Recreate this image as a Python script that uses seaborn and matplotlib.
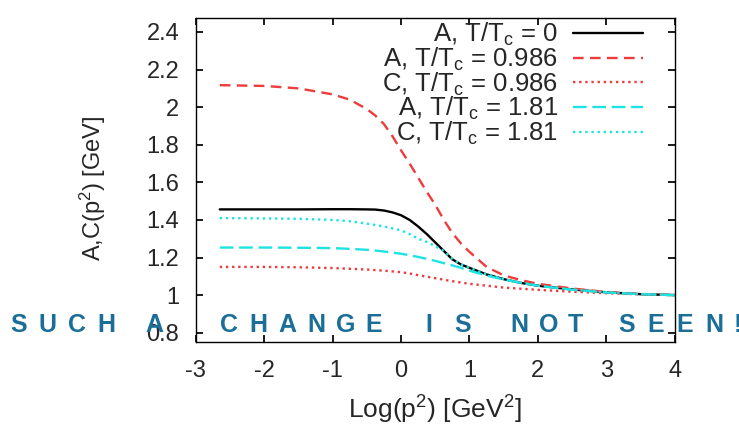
import matplotlib
matplotlib.use("Agg")
import matplotlib.pyplot as plt
import seaborn as sns
import pandas as pd

sns.set_theme(style="ticks")
plt.rcParams.update({
    'font.family': ['Liberation Sans', 'DejaVu Sans'],
    'mathtext.default': 'regular',
    'axes.linewidth': 1.0,
    'xtick.direction': 'in',
    'ytick.direction': 'in',
})

# values
log_p2 = [-2.65, -2.0, -1.5, -1.0, -0.75, -0.5, -0.375, -0.25, -0.125, 0.0,
          0.125, 0.25, 0.375, 0.5, 0.625, 0.75, 0.875, 1.0, 1.25, 1.5,
          1.75, 2.0, 2.5, 3.0, 3.5, 4.0]
a_t0 = [1.456, 1.456, 1.456, 1.457, 1.457, 1.456, 1.455, 1.45, 1.44, 1.425,
        1.40, 1.365, 1.325, 1.28, 1.235, 1.19, 1.163, 1.145, 1.11, 1.085,
        1.065, 1.05, 1.03, 1.015, 1.005, 1.0]
a_t0986 = [2.117, 2.113, 2.10, 2.068, 2.04, 1.99, 1.955, 1.91, 1.845, 1.77,
           1.70, 1.625, 1.55, 1.48, 1.40, 1.33, 1.275, 1.23, 1.15, 1.105,
           1.08, 1.06, 1.035, 1.017, 1.006, 1.0]
c_t0986 = [1.15, 1.15, 1.148, 1.144, 1.14, 1.136, 1.133, 1.13, 1.126, 1.122,
           1.115, 1.106, 1.098, 1.09, 1.082, 1.074, 1.067, 1.06, 1.05, 1.04,
           1.034, 1.028, 1.018, 1.01, 1.004, 1.0]
a_t181 = [1.253, 1.253, 1.252, 1.25, 1.246, 1.241, 1.237, 1.232, 1.226, 1.22,
          1.212, 1.203, 1.193, 1.182, 1.17, 1.158, 1.145, 1.13, 1.104, 1.083,
          1.065, 1.05, 1.028, 1.014, 1.005, 1.0]
c_t181 = [1.41, 1.408, 1.406, 1.40, 1.393, 1.38, 1.373, 1.365, 1.355, 1.344,
          1.325, 1.30, 1.283, 1.26, 1.235, 1.192, 1.163, 1.145, 1.11, 1.085,
          1.065, 1.05, 1.03, 1.015, 1.005, 1.0]

labels = [r"A, T/T$_c$ = 0", r"A, T/T$_c$ = 0.986", r"C, T/T$_c$ = 0.986",
          r"A, T/T$_c$ = 1.81", r"C, T/T$_c$ = 1.81"]
series = [a_t0, a_t0986, c_t0986, a_t181, c_t181]
colors = ['black', '#ee3b3b', '#ee3b3b', '#1ee3e3', '#1ee3e3']
dashes = [None, (4.5, 2.7), (1, 1.6), (5.8, 2.4), (1, 1.6)]

fig = plt.figure(figsize=(7.39, 4.26), dpi=100)
ax = fig.add_axes([0.265, 0.197, 0.648, 0.761])

for lab, vals, col, ds in zip(labels, series, colors, dashes):
    df = pd.DataFrame({'x': log_p2, 'y': vals})
    sns.lineplot(data=df, x='x', y='y', ax=ax, color=col, lw=1.7, label=lab)
    if ds is not None:
        ax.lines[-1].set_dashes(ds)

ax.set_xlim(-3, 4)
ax.set_ylim(0.75, 2.475)
ax.set_xticks(range(-3, 5))
ax.set_xticklabels([str(v) for v in range(-3, 5)])
ax.set_yticks([0.8, 1.0, 1.2, 1.4, 1.6, 1.8, 2.0, 2.2, 2.4])
ax.set_yticklabels(['0.8', '1', '1.2', '1.4', '1.6', '1.8', '2', '2.2', '2.4'])
ax.tick_params(top=True, right=True, labelsize=17, length=5, color='black')
ax.tick_params(axis='y', pad=12)
ax.tick_params(axis='x', pad=13)
for s in ax.spines.values():
    s.set_color('black')

ax.set_xlabel(r"Log(p$^2$) [GeV$^2$]", fontsize=19)
ax.set_ylabel(r"A,C(p$^2$) [GeV]", fontsize=17)
ax.xaxis.set_label_coords(0.499, -0.16)
ax.yaxis.set_label_coords(-0.184, 0.475)

leg = ax.legend(loc='upper right', frameon=False, markerfirst=False, fontsize=18.5,
                handlelength=2.7, labelspacing=-0.1, borderaxespad=0, borderpad=0,
                handletextpad=0.6, bbox_to_anchor=(0.933, 0.99))
for t in leg.get_texts():
    t.set_ha('right')

# overlay caption across the figure
words = ["SUCH", "A", "CHANGE", "IS", "NOT", "SEEN!"]
starts = [10, 145, 220, 425, 510, 618]
W, H = 739, 426
for w, x0 in zip(words, starts):
    for i, ch in enumerate(w):
        fig.text((x0 + i * 29) / W, 1 - 325 / H, ch, color='#1a6e98',
                 fontsize=18, fontweight='bold', ha='left', va='center')

fig.savefig("out.png", dpi=100)
